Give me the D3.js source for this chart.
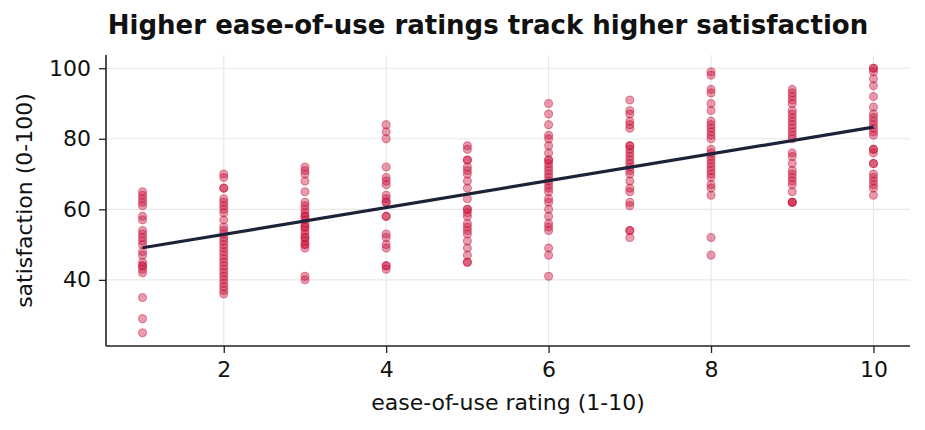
<!DOCTYPE html>
<html>
<head>
<meta charset="utf-8">
<script src="https://cdn.jsdelivr.net/npm/d3@7"></script>
<style>
  body { margin: 0; background: #fff; }
  svg { display: block; font-family: "DejaVu Sans", sans-serif; }
</style>
</head>
<body>
<div id="chart"></div>
<script>
// ratings on x, satisfaction per rating
const ratings = [1, 2, 3, 4, 5, 6, 7, 8, 9, 10];
const sat1 = [65, 64, 63, 62, 61, 58, 57, 54, 53, 52, 51, 50, 48, 47, 45, 44, 44, 43, 42, 35, 29, 25];
const sat2 = [70, 69, 66, 66, 63, 62, 61, 60, 59, 57, 55, 54, 53, 52, 51, 50, 49, 48, 47, 46, 45, 44, 43, 42, 41, 40, 39, 38, 37, 36];
const sat3 = [72, 71, 70, 68, 65, 62, 61, 60, 59, 58, 58, 57, 56, 55, 55, 54, 53, 52, 52, 51, 50, 50, 49, 41, 40];
const sat4 = [84, 82, 80, 72, 69, 68, 67, 64, 63, 62, 62, 58, 58, 53, 52, 50, 49, 44, 44, 43];
const sat5 = [78, 77, 74, 74, 72, 71, 70, 68, 66, 63, 60, 60, 59, 58, 56, 55, 54, 53, 51, 49, 47, 45, 45];
const sat6 = [90, 87, 84, 81, 80, 78, 76, 74, 74, 73, 72, 71, 70, 69, 68, 67, 66, 65, 63, 62, 60, 58, 56, 55, 54, 49, 47, 41];
const sat7 = [91, 88, 87, 85, 84, 83, 78, 78, 77, 76, 75, 74, 73, 72, 71, 70, 68, 66, 65, 62, 61, 54, 54, 52];
const sat8 = [99, 98, 94, 93, 90, 88, 85, 84, 83, 82, 81, 80, 77, 76, 75, 74, 73, 72, 71, 70, 69, 67, 66, 64, 52, 47];
const sat9 = [94, 93, 92, 91, 90, 88, 87, 86, 85, 84, 83, 82, 81, 80, 76, 75, 73, 71, 70, 69, 68, 67, 65, 62, 62, 62];
const sat10 = [100, 100, 99, 97, 95, 92, 89, 87, 86, 85, 84, 83, 82, 81, 77, 77, 76, 73, 73, 70, 69, 68, 67, 66, 64];
const satByRating = [sat1, sat2, sat3, sat4, sat5, sat6, sat7, sat8, sat9, sat10];

// fitted trend line, end points
const fitX = [1, 10];
const fitY = [49.1, 83.3];

const xTicks = [2, 4, 6, 8, 10];
const yTicks = [40, 60, 80, 100];

const points = [];
ratings.forEach((r, i) => satByRating[i].forEach((s) => points.push([r, s])));

const width = 925;
const height = 430;
const margin = { top: 55, right: 15, bottom: 84, left: 106 };

const svg = d3
  .select("#chart")
  .append("svg")
  .attr("width", width)
  .attr("height", height);

const xScale = d3
  .scaleLinear()
  .domain([0.55, 10.45])
  .range([margin.left, width - margin.right]);

const yScale = d3
  .scaleLinear()
  .domain([21.25, 103.75])
  .range([height - margin.bottom, margin.top]);

// grid
svg
  .append("g")
  .selectAll("line")
  .data(xTicks)
  .enter()
  .append("line")
  .attr("x1", (d) => xScale(d))
  .attr("x2", (d) => xScale(d))
  .attr("y1", margin.top)
  .attr("y2", height - margin.bottom)
  .attr("stroke", "#e8e8e8")
  .attr("stroke-width", 1.2);

svg
  .append("g")
  .selectAll("line")
  .data(yTicks)
  .enter()
  .append("line")
  .attr("x1", margin.left)
  .attr("x2", width - margin.right)
  .attr("y1", (d) => yScale(d))
  .attr("y2", (d) => yScale(d))
  .attr("stroke", "#e8e8e8")
  .attr("stroke-width", 1.2);

// points
svg
  .append("g")
  .selectAll("circle")
  .data(points)
  .enter()
  .append("circle")
  .attr("cx", (d) => xScale(d[0]))
  .attr("cy", (d) => yScale(d[1]))
  .attr("r", 4)
  .attr("fill", "#c8143c")
  .attr("fill-opacity", 0.42)
  .attr("stroke", "#c8143c")
  .attr("stroke-opacity", 0.45)
  .attr("stroke-width", 1.1);

// trend line
const line = d3
  .line()
  .x((d) => xScale(d[0]))
  .y((d) => yScale(d[1]));

svg
  .append("path")
  .datum(fitX.map((x, i) => [x, fitY[i]]))
  .attr("d", line)
  .attr("fill", "none")
  .attr("stroke", "#1e2238")
  .attr("stroke-width", 3.2);

// axes
const xAxis = d3.axisBottom(xScale).tickValues(xTicks).tickSize(7).tickPadding(8);
const yAxis = d3.axisLeft(yScale).tickValues(yTicks).tickSize(7).tickPadding(8);

const gx = svg
  .append("g")
  .attr("transform", `translate(0, ${height - margin.bottom})`)
  .call(xAxis);
gx.select(".domain").attr("d", `M${margin.left},0H${width - margin.right}`);

const gy = svg
  .append("g")
  .attr("transform", `translate(${margin.left}, 0)`)
  .call(yAxis);
gy.select(".domain").attr("d", `M0,${margin.top}V${height - margin.bottom}`);

svg.selectAll(".domain").attr("stroke", "#222").attr("stroke-width", 1.6);
svg.selectAll(".tick line").attr("stroke", "#222").attr("stroke-width", 1.3);
svg
  .selectAll(".tick text")
  .attr("font-family", "DejaVu Sans")
  .attr("font-size", 22)
  .attr("fill", "#111");

// labels
svg
  .append("text")
  .attr("x", 488)
  .attr("y", 34)
  .attr("text-anchor", "middle")
  .attr("font-size", 26)
  .attr("font-weight", "bold")
  .attr("fill", "#111")
  .text("Higher ease-of-use ratings track higher satisfaction");

svg
  .append("text")
  .attr("x", (margin.left + width - margin.right) / 2)
  .attr("y", 410)
  .attr("text-anchor", "middle")
  .attr("font-size", 22)
  .attr("fill", "#111")
  .text("ease-of-use rating (1-10)");

svg
  .append("text")
  .attr("transform", `translate(32, ${(margin.top + height - margin.bottom) / 2}) rotate(-90)`)
  .attr("text-anchor", "middle")
  .attr("font-size", 22)
  .attr("fill", "#111")
  .text("satisfaction (0-100)");
</script>
</body>
</html>
